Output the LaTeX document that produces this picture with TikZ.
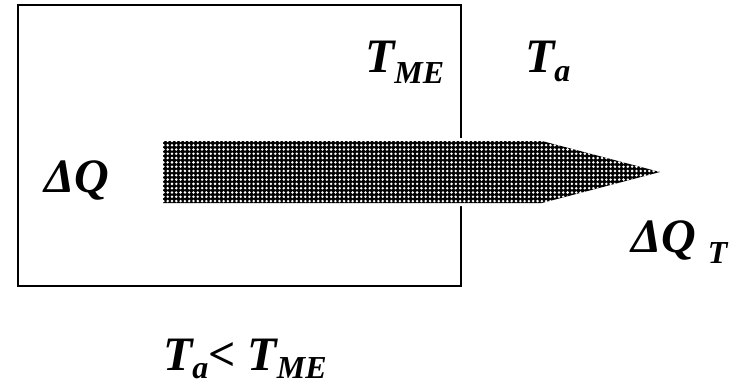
\documentclass[tikz,border=0pt]{standalone}
\usepackage{fontspec}
\setmainfont{Liberation Serif}
\usetikzlibrary{patterns.meta}
\newcommand{\bigtxt}{\fontsize{48}{54}\selectfont\bfseries\itshape}
\newcommand{\subtxt}[2]{\raisebox{-#1pt}{\fontsize{32}{34}\selectfont\bfseries\itshape #2}}
\begin{document}
\begin{tikzpicture}[x=1pt,y=-1pt,
  lbl/.style={anchor=base west, inner sep=0pt, outer sep=0pt, font=\bigtxt},
  frame/.style={draw=black, line width=2pt, inner sep=0pt},
  heatflow/.style={fill=black, postaction={pattern={Dots[distance=4.3pt,radius=1.4pt]}, pattern color=white}}]
\useasboundingbox (0,0) rectangle (740,386);
\node[frame, minimum width=443pt, minimum height=281pt] (box) at (239.5,145.5) {};
\coordinate (a1) at (163,141);
\coordinate (a2) at (542,141);
\coordinate (tip) at (660,172);
\coordinate (a3) at (542,203);
\coordinate (a4) at (163,203);
\draw[white, line width=6pt, line join=miter] (a1) -- (a2) -- (tip) -- (a3) -- (a4) -- cycle;
\path[heatflow] (a1) -- (a2) -- (tip) -- (a3) -- (a4) -- cycle;
\node[lbl] (tme) at (365,72) {T\subtxt{11}{ME}};
\node[lbl] (ta) at (525,72) {T\subtxt{9}{a}};
\node[lbl] (dq) at (44,192) {ΔQ};
\node[lbl] (dqt) at (631,252) {ΔQ \subtxt{11}{T}};
\node[lbl] (ineq) at (163,370) {T\subtxt{8}{a}< T\subtxt{8}{ME}};
\end{tikzpicture}
\end{document}
